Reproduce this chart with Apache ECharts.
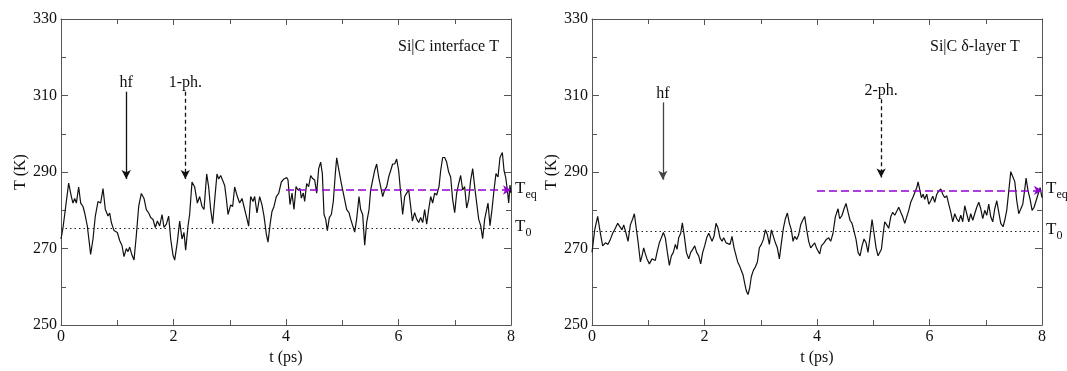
<!DOCTYPE html>
<html>
<head>
<meta charset="utf-8">
<script src="https://cdn.jsdelivr.net/npm/echarts@6/dist/echarts.min.js"></script>
<style>html,body{margin:0;padding:0;background:#fff}#c{width:1067px;height:371px}</style>
</head>
<body>
<div id="c"></div>
<script>
// ---- data (t in ps, T in K) ----
const tLeft = [0,0.036,0.077,0.136,0.184,0.213,0.243,0.273,0.314,0.350,0.391,0.421,0.468,0.527,0.569,0.610,0.658,0.705,0.747,0.788,0.836,0.865,0.895,0.942,0.966,1.001,1.043,1.084,1.120,1.161,1.191,1.221,1.262,1.298,1.339,1.381,1.428,1.476,1.517,1.559,1.594,1.636,1.677,1.713,1.754,1.796,1.831,1.873,1.914,1.950,1.991,2.021,2.068,2.110,2.151,2.187,2.216,2.258,2.287,2.329,2.376,2.424,2.465,2.507,2.542,2.590,2.625,2.661,2.696,2.732,2.773,2.803,2.839,2.874,2.910,2.939,2.969,3.016,3.052,3.087,3.135,3.176,3.218,3.253,3.295,3.336,3.372,3.413,3.443,3.484,3.532,3.573,3.609,3.650,3.680,3.721,3.751,3.787,3.828,3.870,3.917,3.964,
4.012,4.036,4.071,4.107,4.142,4.178,4.213,4.249,4.273,4.308,4.332,4.367,4.403,4.439,4.474,4.510,4.545,4.581,4.616,4.646,4.676,4.705,4.735,4.770,4.806,4.841,4.877,4.901,4.942,4.984,5.019,5.049,5.079,5.120,5.150,5.185,5.221,5.256,5.298,5.327,5.363,5.399,5.434,5.476,5.505,5.541,5.576,5.612,5.647,5.683,5.719,5.754,5.790,5.825,5.861,5.896,5.932,5.967,6.003,6.039,6.074,6.110,6.145,6.181,6.216,6.246,6.287,6.323,6.359,6.394,6.430,6.465,6.501,6.536,6.572,6.607,6.643,6.679,6.720,6.750,6.785,6.821,6.856,6.892,6.927,6.963,6.999,7.034,7.070,7.105,7.141,7.176,7.212,7.247,7.283,7.319,7.354,7.390,7.425,7.461,7.496,7.532,7.567,7.591,7.627,7.662,7.698,7.733,7.769,7.804,7.846,7.876,7.905,7.935,7.959,7.982,8.0];
const TLeft = [272.5,275.5,280.2,287.1,283.6,281.9,283.1,281.9,286.1,281.9,281.0,279.3,275.9,268.5,272.5,278.5,282.3,281.9,285.7,280.2,278.5,279.3,276.8,274.7,275.1,274.2,272.1,270.8,267.9,270.0,269.2,270.4,268.3,267.0,273.4,281.0,284.4,283.1,280.2,279.3,278.1,277.6,275.5,277.2,275.9,278.9,275.5,276.4,278.5,272.5,268.3,267.0,271.7,277.2,272.5,274.2,269.6,275.9,278.9,287.4,286.1,281.9,283.6,281.0,280.2,289.5,286.1,280.2,276.5,282.7,289.5,288.2,289.1,288.6,286.5,283.1,278.9,281.4,281.0,286.1,283.6,281.9,283.1,281.0,278.5,275.9,283.6,282.3,283.6,279.3,283.6,281.4,278.5,273.8,271.7,276.8,279.7,281.0,283.6,284.4,287.4,288.2,
288.6,287.9,281.5,284.5,280.2,286.2,285.3,285.7,283.2,284.5,282.3,287.0,286.2,289.1,288.3,287.9,284.5,290.9,292.6,289.6,278.9,277.7,274.7,278.1,278.9,282.3,289.6,293.7,290.4,287.0,284.5,284.9,280.2,279.4,277.7,278.1,274.3,277.7,283.6,280.2,278.9,270.9,276.8,280.2,285.3,287.9,290.4,292.1,288.7,286.2,283.6,285.3,286.2,288.7,290.4,292.1,292.1,293.4,290.4,284.5,278.9,283.6,284.5,285.3,281.1,277.2,279.4,277.7,276.8,278.1,276.8,280.2,276.4,280.2,283.6,281.9,284.5,284.0,286.2,290.4,293.8,293.8,292.6,290.0,288.7,282.8,279.4,284.5,287.0,289.1,285.3,286.2,280.6,282.8,287.9,290.9,286.2,281.9,277.7,276.0,272.6,277.7,280.2,281.9,276.0,280.2,285.3,289.6,288.7,293.8,295.1,290.4,288.7,285.3,281.9,286.6,284.5];

const tRight = [0,0.048,0.101,0.149,0.190,0.238,0.285,0.326,0.368,0.415,0.457,0.492,0.534,0.564,0.605,0.641,0.682,0.724,0.753,0.783,0.818,0.860,0.889,0.919,0.949,0.978,1.020,1.067,1.097,1.126,1.162,1.197,1.233,1.269,1.304,1.340,1.375,1.411,1.446,1.482,1.512,1.541,1.577,1.606,1.642,1.678,1.719,1.755,1.790,1.826,1.861,1.897,1.932,1.968,2.003,2.039,2.075,2.104,2.134,2.169,2.205,2.241,2.276,2.312,2.341,2.383,2.418,2.454,2.489,2.525,2.560,2.590,2.620,2.655,2.685,2.714,2.744,2.774,2.803,2.833,2.869,2.904,2.940,2.975,3.011,3.047,3.082,3.118,3.153,3.189,3.224,3.260,3.295,3.331,3.367,3.402,3.438,3.473,3.509,3.544,3.574,3.603,3.639,3.674,3.710,3.745,3.781,3.817,3.852,3.888,3.923,3.959,3.995,
4.048,4.078,4.125,4.166,4.208,4.243,4.285,4.326,4.374,4.403,4.445,4.481,4.516,4.552,4.587,4.623,4.659,4.694,4.730,4.765,4.801,4.836,4.872,4.907,4.943,4.979,5.014,5.050,5.085,5.115,5.145,5.174,5.204,5.240,5.275,5.311,5.346,5.382,5.417,5.453,5.489,5.524,5.560,5.595,5.631,5.666,5.702,5.737,5.773,5.797,5.832,5.856,5.886,5.915,5.951,5.987,6.022,6.058,6.093,6.129,6.164,6.200,6.236,6.271,6.307,6.342,6.378,6.413,6.449,6.484,6.520,6.556,6.591,6.627,6.662,6.698,6.733,6.769,6.804,6.840,6.876,6.911,6.947,6.982,7.018,7.053,7.089,7.124,7.160,7.196,7.231,7.267,7.308,7.338,7.373,7.409,7.445,7.480,7.516,7.551,7.587,7.622,7.658,7.693,7.717,7.753,7.788,7.824,7.859,7.895,7.930,7.966,8.0];
const TRight = [269.0,274.9,278.4,274.0,270.7,271.5,271.1,272.4,274.0,275.3,276.6,277.0,274.9,276.2,274.0,271.9,276.2,277.8,279.1,275.7,271.9,266.5,268.1,270.2,268.6,267.3,266.0,267.3,267.7,266.9,269.4,271.5,272.8,274.2,272.8,269.0,265.6,268.1,269.0,271.1,269.8,272.8,274.0,276.7,273.2,269.0,267.3,269.0,269.8,270.7,269.0,268.1,266.0,269.0,270.7,272.8,274.0,274.5,271.9,273.2,276.6,275.3,272.8,271.9,272.8,271.5,271.9,271.1,273.2,270.2,269.8,266.5,265.6,265.2,263.1,261.0,258.9,258.0,259.7,262.7,264.3,265.2,266.5,270.2,271.1,272.4,274.9,273.6,271.1,274.9,273.2,271.5,270.2,267.3,271.5,275.3,277.8,279.3,276.6,274.9,271.9,273.2,272.4,273.6,276.2,277.4,278.4,274.9,271.9,270.2,270.7,271.5,270.0,
268.6,270.7,271.5,272.4,272.8,271.9,274.0,278.3,280.4,277.8,278.7,280.4,281.8,279.5,277.4,276.6,274.5,272.4,269.0,268.1,270.7,272.5,271.5,269.0,273.2,277.6,274.0,270.2,268.1,267.7,269.8,273.6,277.0,276.2,275.3,278.3,279.5,278.7,279.1,280.8,279.5,278.3,276.6,278.3,280.0,282.1,283.3,284.6,285.9,287.4,285.0,283.3,284.2,282.9,284.2,281.6,282.5,283.7,282.1,284.2,285.0,285.6,284.2,283.3,283.8,281.6,279.5,277.0,279.1,277.8,277.0,278.7,277.0,281.2,279.1,277.0,279.1,277.4,279.1,280.8,282.1,280.4,277.8,280.0,278.7,281.6,278.3,277.0,280.4,282.5,279.5,276.6,275.7,277.4,280.0,285.0,290.1,290.5,287.5,282.5,279.1,278.7,281.6,285.4,288.4,285.0,282.9,280.0,280.8,282.5,284.2,285.9,283.3];

const panelTitles = ['Si|C interface T', 'Si|C \u03b4-layer T'];
const T0 = [275.3, 274.4];
const Teq = [285.3, 285.2];
const TeqStart = [4, 4];
const xTicks = {min: 0, max: 8, interval: 2};
const yTicks = {min: 250, max: 330, interval: 20};
// arrow annotations: [label, t, Ttop, Tbottom, dashed]
const arrowsLeft = [['hf', 1.16, 311, 288.2, false], ['1-ph.', 2.21, 311, 288.2, true]];
const arrowsRight = [['hf', 1.26, 308.2, 288.0, false], ['2-ph.', 5.14, 309.0, 288.6, true]];

const FONT = '"Liberation Serif", "DejaVu Serif", serif';
const AX = '#555';
const VIOLET = '#9400d3';

function pairs(ts, vs){ return ts.map((t,i)=>[t, vs[i]]); }

const grids = [
  {left: 61, top: 19, width: 450, height: 316},
  {left: 592, top: 19, width: 450, height: 316}
];

function xAxes(g){
  return [
    {type:'value', gridIndex:g, min:xTicks.min, max:xTicks.max, interval:xTicks.interval, position:'bottom',
     name:'t (ps)', nameLocation:'middle', nameGap:17, nameTextStyle:{fontFamily:FONT, fontSize:16, color:'#111'},
     axisLine:{show:true, onZero:false, lineStyle:{color:AX, width:1}},
     axisTick:{show:true, inside:true, length:6, lineStyle:{color:AX}},
     minorTick:{show:true, splitNumber:2, length:5, lineStyle:{color:AX}},
     axisLabel:{fontFamily:FONT, fontSize:16, color:'#111', margin:4},
     splitLine:{show:false}},
    {type:'value', gridIndex:g, min:xTicks.min, max:xTicks.max, interval:xTicks.interval, position:'top',
     axisLine:{show:true, onZero:false, lineStyle:{color:AX, width:1}},
     axisTick:{show:true, inside:true, length:6, lineStyle:{color:AX}},
     minorTick:{show:true, splitNumber:2, length:5, lineStyle:{color:AX}},
     axisLabel:{show:false}, splitLine:{show:false}}
  ];
}
function yAxes(g){
  return [
    {type:'value', gridIndex:g, min:yTicks.min, max:yTicks.max, interval:yTicks.interval, position:'left',
     name:'T (K)', nameLocation:'middle', nameGap:31, nameRotate:90, nameTextStyle:{fontFamily:FONT, fontSize:16, color:'#111'},
     axisLine:{show:true, onZero:false, lineStyle:{color:AX, width:1}},
     axisTick:{show:true, inside:true, length:7, lineStyle:{color:AX}},
     minorTick:{show:true, splitNumber:2, length:5, lineStyle:{color:AX}},
     axisLabel:{fontFamily:FONT, fontSize:16, color:'#111', margin:4},
     splitLine:{show:false}},
    {type:'value', gridIndex:g, min:yTicks.min, max:yTicks.max, interval:yTicks.interval, position:'right',
     axisLine:{show:true, onZero:false, lineStyle:{color:AX, width:1}},
     axisTick:{show:true, inside:true, length:7, lineStyle:{color:AX}},
     minorTick:{show:true, splitNumber:2, length:5, lineStyle:{color:AX}},
     axisLabel:{show:false}, splitLine:{show:false}}
  ];
}

const rich = {
  a:{fontFamily:FONT, fontSize:17, color:'#111', lineHeight:18, verticalAlign:'top'},
  s:{fontFamily:FONT, fontSize:12, color:'#111', lineHeight:21, verticalAlign:'bottom'}
};

function refLines(i){
  return [
    [{coord:[xTicks.min, T0[i]], symbol:'none', lineStyle:{type:[1.5,3], color:'#222', width:1},
      label:{show:true, position:'end', distance:4, formatter:'{a|T}{s|0}', rich:rich}},
     {coord:[xTicks.max, T0[i]], symbol:'none'}],
    [{coord:[TeqStart[i], Teq[i]], symbol:'none', lineStyle:{type:[8,4], color:VIOLET, width:1.5},
      label:{show:true, position:'end', distance:4, formatter:'{a|T}{s|eq}', rich:rich}},
     {coord:[xTicks.max, Teq[i]], symbol:'arrow', symbolSize:[7,8]}]
  ];
}
function arrowLines(arr, gray){
  return arr.map(a => [
    {coord:[a[1], a[2]], symbol:'none',
     lineStyle:{type: a[4] ? [4,3] : 'solid', color: (gray && !a[4]) ? '#444' : '#111', width:1.3},
     label:{show:true, position:'start', distance:1, formatter:a[0], fontFamily:FONT, fontSize:16, color:'#111'}},
    {coord:[a[1], a[3]], symbol:'arrow', symbolSize:[7,9]}
  ]);
}

function mkSeries(i, ts, vs, arr, gray){
  return {
    type:'line', xAxisIndex:i*2, yAxisIndex:i*2, data:pairs(ts, vs),
    showSymbol:false, symbol:'none', silent:true, animation:false,
    lineStyle:{color:'#111', width:1.2},
    markLine:{silent:true, animation:false, symbol:['none','arrow'], precision:2,
      data: refLines(i).concat(arrowLines(arr, gray))}
  };
}

const chart = echarts.init(document.getElementById('c'), null, {renderer:'canvas'});
chart.setOption({
  backgroundColor:'#fff',
  animation:false,
  title:[
    {text:panelTitles[0], left:393, top:34, textStyle:{fontFamily:FONT, fontSize:16, fontWeight:'normal', color:'#111'}},
    {text:panelTitles[1], left:925, top:34, textStyle:{fontFamily:FONT, fontSize:16, fontWeight:'normal', color:'#111'}}
  ],
  grid:grids,
  xAxis: xAxes(0).concat(xAxes(1)),
  yAxis: yAxes(0).concat(yAxes(1)),
  series:[
    mkSeries(0, tLeft, TLeft, arrowsLeft, false),
    mkSeries(1, tRight, TRight, arrowsRight, true)
  ]
});
</script>
</body>
</html>
